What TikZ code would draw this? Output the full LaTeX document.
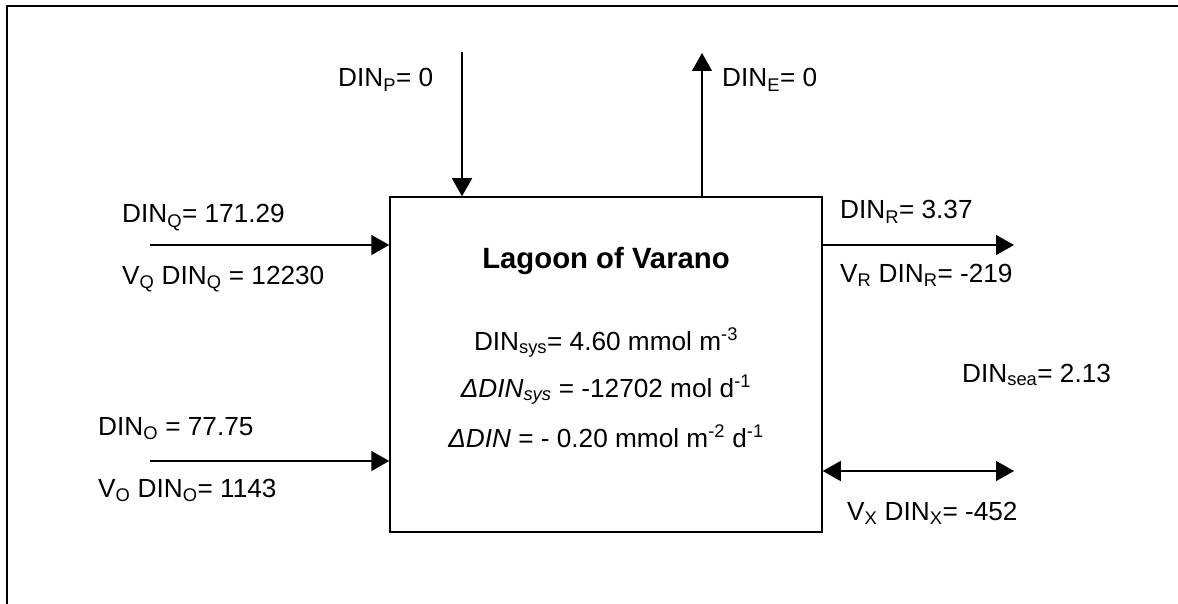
\documentclass[tikz,border=0pt]{standalone}
\usepackage{fontspec}
\setmainfont{Liberation Sans}
\usetikzlibrary{arrows.meta}
\newcommand{\dsub}[1]{\textsubscript{#1}}
\newcommand{\dsup}[1]{\textsuperscript{#1}}

\begin{document}
\begin{tikzpicture}[x=1pt, y=-1pt,
  every node/.style={inner sep=0pt, anchor=base west, font=\fontsize{26.2}{30}\selectfont},
  flow/.style={line width=1.4pt, -{Triangle[length=18pt,width=20pt]}},
  flowboth/.style={line width=1.4pt, {Triangle[length=18pt,width=20pt]}-{Triangle[length=18pt,width=20pt]}}]
\useasboundingbox (0,0) rectangle (1178,604);
\draw[line width=2pt] (7,604) -- (7,6) -- (1178,6);
% the lagoon box
\node[draw, line width=1.5pt, anchor=center, minimum width=432pt, minimum height=335pt] (lagoon) at (606,364.5) {};
\node[anchor=base, font=\fontsize{29.3}{34}\selectfont\bfseries] (title) at (606,269) {Lagoon of Varano};
\node[anchor=base] (sysconc) at (606,350) {DIN\dsub{sys}= 4.60 mmol m\dsup{-3}};
\node[anchor=base] (sysdelta) at (606,397) {\textit{ΔDIN\dsub{sys}} = -12702 mol d\dsup{-1}};
\node[anchor=base] (areadelta) at (606,447) {\textit{ΔDIN} = - 0.20 mmol m\dsup{-2} d\dsup{-1}};
% end points of the fluxes
\coordinate (pin) at (462,52);
\coordinate (eout) at (702,53);
\coordinate (qin) at (150,245);
\coordinate (oin) at (150,461);
\coordinate (rout) at (1014,245);
\coordinate (xend) at (1014,471);
\draw[flow] (pin) -- (pin |- lagoon.north);
\draw[flow] (eout |- lagoon.north) -- (eout);
\draw[flow] (qin) -- (qin -| lagoon.west);
\draw[flow] (oin) -- (oin -| lagoon.west);
\draw[flow] (rout -| lagoon.east) -- (rout);
\draw[flowboth] (xend -| lagoon.east) -- (xend);
% labels
\node (pval) at (338,87) {DIN\dsub{P}= 0};
\node (eval) at (722,87) {DIN\dsub{E}= 0};
\node (qconc) at (122,223) {DIN\dsub{Q}= 171.29};
\node (qflux) at (122,284) {V\dsub{Q} DIN\dsub{Q} = 12230};
\node (oconc) at (98,435) {DIN\dsub{O} = 77.75};
\node (oflux) at (98,497) {V\dsub{O} DIN\dsub{O}= 1143};
\node (rconc) at (840,219) {DIN\dsub{R}= 3.37};
\node (rflux) at (840,282) {V\dsub{R} DIN\dsub{R}= -219};
\node (seaconc) at (962,382) {DIN\dsub{sea}= 2.13};
\node (xflux) at (847,520) {V\dsub{X} DIN\dsub{X}= -452};
\end{tikzpicture}
\end{document}
